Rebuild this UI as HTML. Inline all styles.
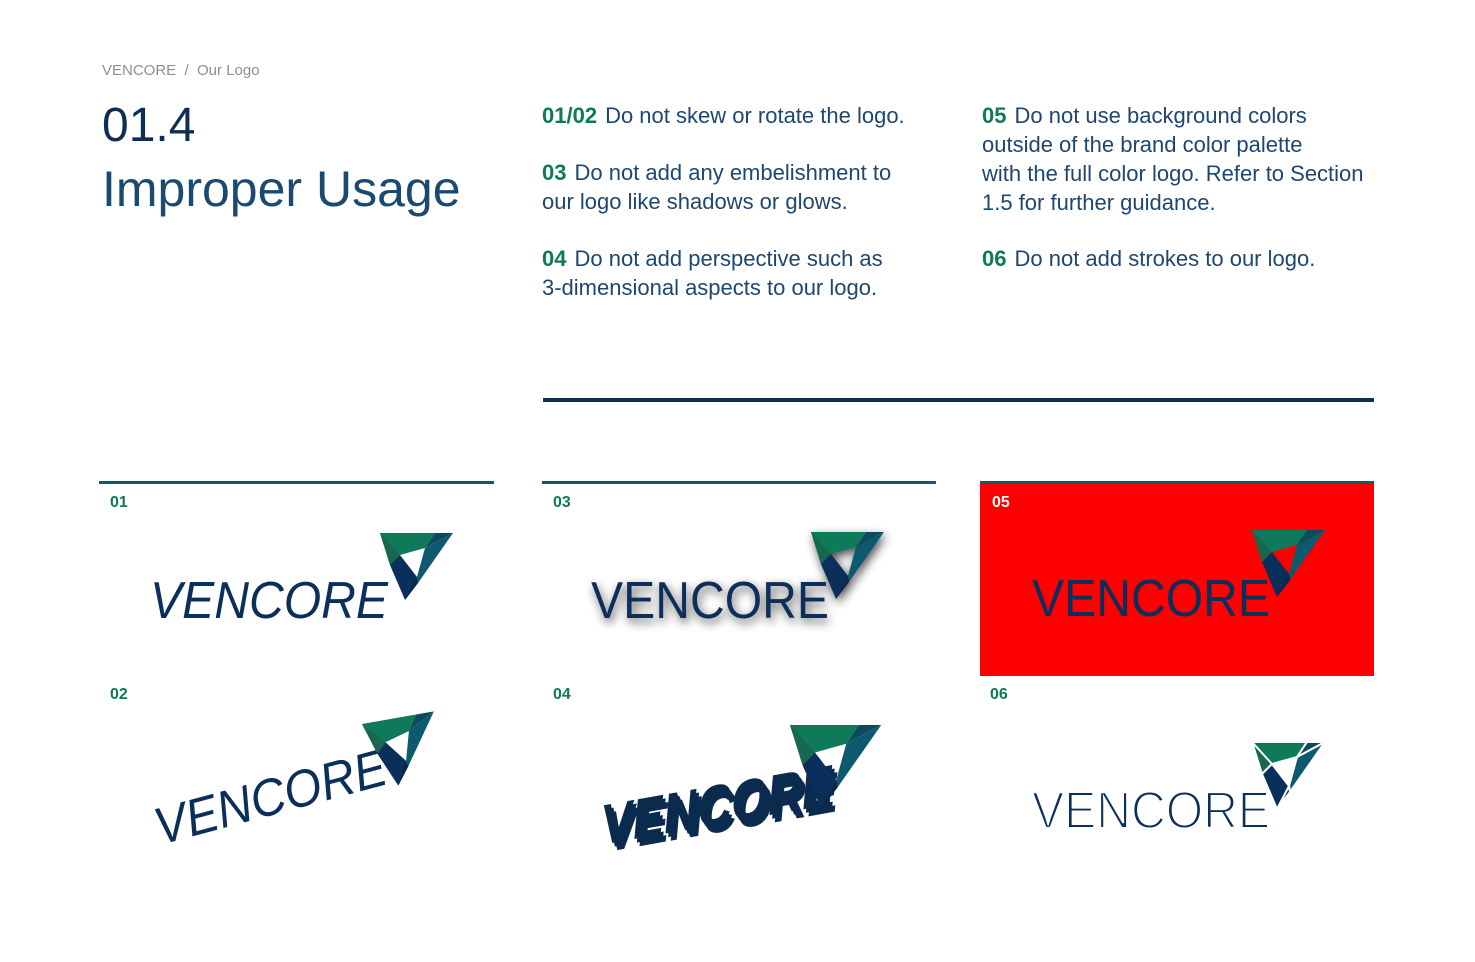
<!DOCTYPE html>
<html><head><meta charset="utf-8"><style>
body{margin:0;width:1475px;height:962px;background:#fff;font-family:"Liberation Sans",sans-serif;position:relative;overflow:hidden}
.a{position:absolute;white-space:nowrap}
.t{font-size:22px;color:#1d4770;line-height:29px;font-weight:300}
.t b{color:#0e7a5a;font-weight:bold;margin-right:8px}
.lab{font-size:16px;font-weight:bold;color:#0e7a5a}
</style></head><body>
<div class="a" style="left:102px;top:62px;font-size:15px;color:#8a8f94">VENCORE &nbsp;/&nbsp; Our Logo</div>
<div class="a" style="left:102px;top:98px;font-size:48px;color:#0d2f55">01.4</div>
<div class="a" style="left:102px;top:160px;font-size:50px;color:#1a4a72">Improper Usage</div>
<div class="a t" style="left:542px;top:101px"><b>01/02</b>Do not skew or rotate the logo.</div>
<div class="a t" style="left:542px;top:158px"><b>03</b>Do not add any embelishment to<br>our logo like shadows or glows.</div>
<div class="a t" style="left:542px;top:244px"><b>04</b>Do not add perspective such as<br>3-dimensional aspects to our logo.</div>
<div class="a t" style="left:982px;top:101px"><b>05</b>Do not use background colors<br>outside of the brand color palette<br>with the full color logo. Refer to Section<br>1.5 for further guidance.</div>
<div class="a t" style="left:982px;top:244px"><b>06</b>Do not add strokes to our logo.</div>
<div class="a" style="left:543px;top:398px;width:831px;height:4px;background:#0d2f4f"></div>
<div class="a" style="left:99px;top:481px;width:395px;height:3px;background:#0d5a6e"></div>
<div class="a" style="left:542px;top:481px;width:394px;height:3px;background:#0d5a6e"></div>
<div class="a" style="left:980px;top:481px;width:394px;height:195px;background:#ff0000;border-top:3px solid #0d5a6e;box-sizing:border-box"></div>
<div class="a lab" style="left:110px;top:494px">01</div>
<div class="a lab" style="left:110px;top:686px">02</div>
<div class="a lab" style="left:553px;top:494px">03</div>
<div class="a lab" style="left:553px;top:686px">04</div>
<div class="a lab" style="left:992px;top:494px;color:#fff">05</div>
<div class="a lab" style="left:990px;top:686px">06</div>
<svg class="a" style="left:0;top:0" width="1475" height="962">
<defs>
<g id="tri">
<polygon points="0,0 55,0 45,15 20,22 10,32" fill="#0e7a5a"/>
<polygon points="0,0 20,22 10,32" fill="#17684e"/>
<polygon points="55,0 73,0 45,15" fill="#0c4a5e"/>
<polygon points="73,0 45,15 37,44 38,50" fill="#0d5a6e"/>
<polygon points="20,22 37,44 38,50 25,67 10,32" fill="#0a2f5a"/>
<polygon points="37,44 38,50 25,67" fill="#08264a"/>
</g>
<g id="textI"><text x="0" y="0" font-size="52" font-style="italic" fill="#0a2f5a" textLength="238" lengthAdjust="spacingAndGlyphs">VENCORE</text></g>
<g id="logoI"><use href="#textI"/><use href="#tri" x="230" y="-85"/></g>
<g id="logoU"><text x="0" y="0" font-size="52" fill="#0a2f5a" textLength="238" lengthAdjust="spacingAndGlyphs">VENCORE</text><use href="#tri" x="220" y="-86"/></g>
<filter id="sh" x="-20%" y="-50%" width="140%" height="200%"><feGaussianBlur in="SourceAlpha" stdDeviation="5"/><feOffset dx="2" dy="4"/><feComponentTransfer><feFuncA type="linear" slope="0.7"/></feComponentTransfer><feMerge><feMergeNode/><feMergeNode in="SourceGraphic"/></feMerge></filter>
</defs>
<use href="#logoI" x="150" y="618"/>
<g transform="translate(160,845) rotate(-15)"><use href="#textI"/></g>
<g transform="translate(362,724) rotate(-10)"><use href="#tri"/></g>
<g filter="url(#sh)"><use href="#logoU" x="591" y="618"/></g>
<use href="#logoU" x="1032" y="616"/>
<g stroke="#fff" stroke-width="2"><use href="#logoU" x="1032" y="828"/></g>
<g transform="translate(600,845) rotate(-10) skewX(-15)">
<g fill="#0a2a4e"><text x="0" y="0" font-size="56" font-weight="bold" textLength="235" lengthAdjust="spacingAndGlyphs">VENCORE</text>
<text x="3" y="4" font-size="56" font-weight="bold" textLength="235" lengthAdjust="spacingAndGlyphs">VENCORE</text>
<text x="6" y="8" font-size="56" font-weight="bold" textLength="235" lengthAdjust="spacingAndGlyphs">VENCORE</text></g>
</g>
<g transform="translate(790,725) scale(1.25)"><use href="#tri"/></g>
</svg>
</body></html>
